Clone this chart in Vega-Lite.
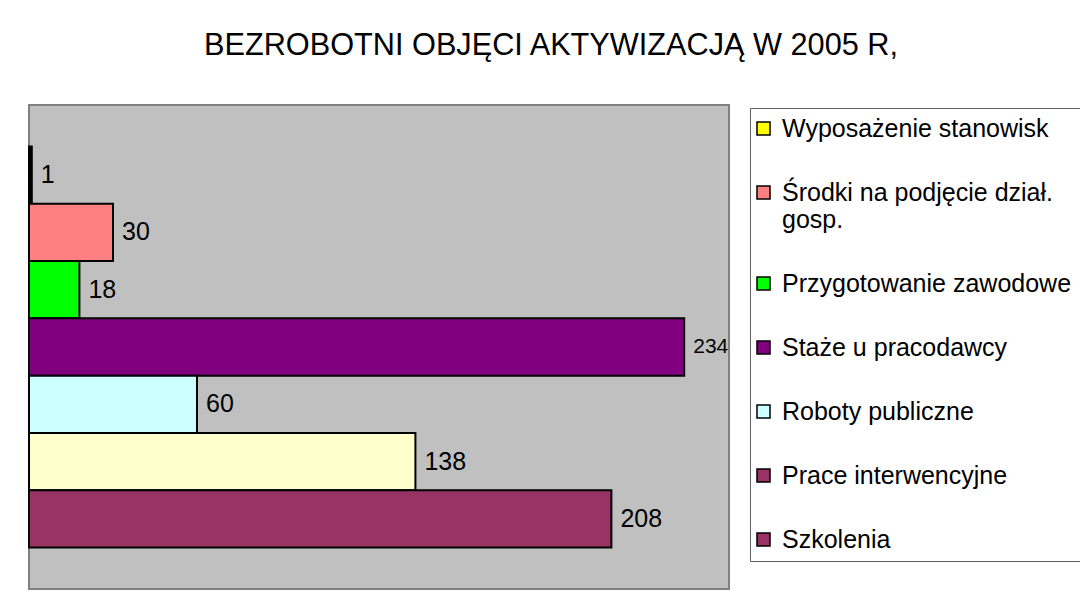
{
  "$schema": "https://vega.github.io/schema/vega-lite/v6.json",
  "width": 700,
  "height": 484,
  "autosize": {"type": "none"},
  "padding": {"left": 29, "top": 105, "right": 351, "bottom": 14},
  "background": "white",
  "title": {
    "text": "BEZROBOTNI OBJĘCI AKTYWIZACJĄ W 2005 R,",
    "font": "Liberation Sans",
    "fontSize": 30.7,
    "fontWeight": "normal",
    "color": "black",
    "anchor": "middle",
    "frame": "group",
    "baseline": "alphabetic",
    "offset": 19,
    "dx": 172
  },
  "config": {
    "view": {"fill": "#C0C0C0", "stroke": "#808080", "strokeWidth": 2},
    "font": "Liberation Sans"
  },
  "data": {
    "values": [
      {"category": "Wyposażenie stanowisk", "value": 1},
      {"category": "Środki na podjęcie dział. gosp.", "value": 30},
      {"category": "Przygotowanie zawodowe", "value": 18},
      {"category": "Staże u pracodawcy", "value": 234},
      {"category": "Roboty publiczne", "value": 60},
      {"category": "Prace interwencyjne", "value": 138},
      {"category": "Szkolenia", "value": 208}
    ]
  },
  "encoding": {
    "y": {
      "field": "category",
      "type": "nominal",
      "sort": null,
      "scale": {"paddingInner": 0, "paddingOuter": 0.725},
      "axis": null
    },
    "x": {
      "field": "value",
      "type": "quantitative",
      "scale": {"domain": [0, 250], "nice": false},
      "axis": null
    }
  },
  "layer": [
    {
      "mark": {"type": "bar", "stroke": "black", "strokeWidth": 2},
      "encoding": {
        "fill": {
          "field": "category",
          "type": "nominal",
          "sort": null,
          "scale": {
            "range": ["#000000", "#FF8080", "#00FF00", "#800080", "#CCFFFF", "#FFFFCC", "#993366"]
          },
          "legend": null
        }
      }
    },
    {
      "mark": {"type": "square", "filled": true, "opacity": 0, "stroke": "black", "strokeWidth": 1.5},
      "encoding": {
        "color": {
          "field": "category",
          "type": "nominal",
          "scale": {
            "domain": ["Wyposażenie stanowisk", "Środki na podjęcie dział. gosp.", "Przygotowanie zawodowe", "Staże u pracodawcy", "Roboty publiczne", "Prace interwencyjne", "Szkolenia"],
            "range": ["#FFFF00", "#FF8080", "#00FF00", "#800080", "#CCFFFF", "#993366", "#993366"]
          },
          "legend": {
            "title": null,
            "orient": "none",
            "legendX": 721,
            "legendY": 3,
            "direction": "vertical",
            "symbolType": "square",
            "symbolSize": 169,
            "symbolOpacity": 1,
            "symbolStrokeColor": "black",
            "symbolStrokeWidth": 1.5,
            "symbolOffset": -7,
            "labelFont": "Liberation Sans",
            "labelFontSize": 25,
            "labelColor": "black",
            "labelLimit": 500,
            "labelOffset": 6,
            "labelExpr": "datum.label == 'Środki na podjęcie dział. gosp.' ? ['Środki na podjęcie dział.', 'gosp.'] : datum.label",
            "rowPadding": 38,
            "padding": 8,
            "strokeColor": "#606060",
            "fillColor": "white"
          }
        }
      }
    },
    {
      "mark": {"type": "text", "align": "left", "baseline": "middle", "dx": 9, "color": "black", "font": "Liberation Sans"},
      "encoding": {
        "text": {"field": "value", "type": "quantitative"},
        "size": {"condition": {"test": "datum.value == 234", "value": 21}, "value": 25}
      }
    }
  ]
}
